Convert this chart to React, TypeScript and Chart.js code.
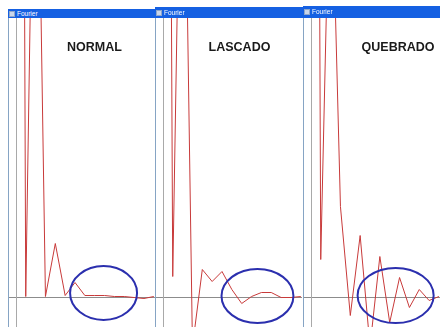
import React, { useEffect, useRef } from "react";
import { Chart, registerables } from "chart.js";

Chart.register(...registerables);

// Panel labels
const PANEL_LABELS = ["NORMAL", "LASCADO", "QUEBRADO"];
const WINDOW_TITLE = "Fourier";

// Fourier magnitudes per harmonic index
const NORMAL_VALUES = [2500, 0, 628, 0, 53, 1, 14, 1, 1, 1, 0, 0, -1, -2, 0];
const LASCADO_VALUES = [2000, 20, 608, -50, 27, 15, 25, 7, -7, 0, 4, 4, -1, -1, 0];
const QUEBRADO_VALUES = [2460, 37, 470, 90, -19, 61, -50, 40, -26, 19, -11, 7, -4, 0];

// Highlight ellipses (centre index, centre value, radius in index, radius in value)
const NORMAL_ELLIPSE = [8.9, 3.5, 3.4, 27];
const LASCADO_ELLIPSE = [9.6, 0.5, 3.65, 27];
const QUEBRADO_ELLIPSE = [8.6, 1, 3.86, 27.5];

const X_MIN = -0.7;
const X_MAX = 14.12;
const Y_MIN = -30.5;
const Y_MAX = 278.5;

type PanelProps = {
  label: string;
  values: number[];
  ellipse: number[];
  left: number;
  titleTop: number;
  labelCenter: number;
};

function Panel({ label, values, ellipse, left, titleTop, labelCenter }: PanelProps) {
  const ref = useRef<HTMLCanvasElement | null>(null);

  useEffect(() => {
    if (!ref.current) return;
    const decor = {
      id: "fourierDecor",
      beforeDatasetsDraw(chart: any) {
        const { ctx, chartArea, scales } = chart;
        const xs = scales.x;
        const ys = scales.y;
        ctx.save();
        ctx.lineWidth = 1;
        ctx.strokeStyle = "#8c8c8c";
        const y0 = Math.round(ys.getPixelForValue(0)) + 0.5;
        ctx.beginPath();
        ctx.moveTo(chartArea.left - 2, y0);
        ctx.lineTo(chartArea.right, y0);
        ctx.stroke();
        ctx.strokeStyle = "#a9a9a9";
        const x0 = Math.round(xs.getPixelForValue(0)) + 0.5;
        ctx.beginPath();
        ctx.moveTo(x0, chartArea.top);
        ctx.lineTo(x0, chartArea.bottom);
        ctx.stroke();
        ctx.restore();
      },
      afterDatasetsDraw(chart: any) {
        const { ctx, scales } = chart;
        const xs = scales.x;
        const ys = scales.y;
        const [cxv, cyv, rxv, ryv] = ellipse;
        const cx = xs.getPixelForValue(cxv);
        const cy = ys.getPixelForValue(cyv);
        const rx = Math.abs(xs.getPixelForValue(cxv + rxv) - cx);
        const ry = Math.abs(ys.getPixelForValue(cyv + ryv) - cy);
        ctx.save();
        ctx.strokeStyle = "#2b2fae";
        ctx.lineWidth = 2;
        ctx.beginPath();
        ctx.ellipse(cx, cy, rx, ry, 0, 0, Math.PI * 2);
        ctx.stroke();
        ctx.restore();
      },
    };
    const chart = new Chart(ref.current, {
      type: "line",
      data: {
        datasets: [
          {
            data: values.map((v, i) => ({ x: i, y: v })),
            borderColor: "#c83a3a",
            borderWidth: 1,
            pointRadius: 0,
            tension: 0,
            fill: false,
          },
        ],
      },
      options: {
        responsive: false,
        maintainAspectRatio: false,
        animation: false,
        layout: { padding: 0 },
        plugins: { legend: { display: false }, tooltip: { enabled: false }, title: { display: false } },
        scales: {
          x: { type: "linear", min: X_MIN, max: X_MAX, display: false },
          y: { type: "linear", min: Y_MIN, max: Y_MAX, display: false },
        },
      },
      plugins: [decor],
    } as any);
    return () => chart.destroy();
  }, [values, ellipse]);

  return (
    <>
      <div
        style={{
          position: "absolute",
          left,
          top: titleTop,
          width: 150,
          height: 18 - titleTop,
          background: "#1560e2",
          overflow: "hidden",
        }}
      >
        <div
          style={{
            position: "absolute",
            left: 1,
            top: (18 - titleTop) / 2 - 3,
            width: 6,
            height: 6,
            background: "#c9d6ea",
            border: "1px solid #8fa6c8",
            boxSizing: "border-box",
          }}
        />
        <div
          style={{
            position: "absolute",
            left: 9,
            top: 0,
            height: 18 - titleTop,
            lineHeight: `${18 - titleTop}px`,
            fontFamily: "'Liberation Sans', Arial, sans-serif",
            fontSize: 6.5,
            color: "#ffffff",
          }}
        >
          {WINDOW_TITLE}
        </div>
      </div>
      <div
        style={{
          position: "absolute",
          left,
          top: 18,
          width: 1,
          height: 309,
          background: "#86a4c4",
        }}
      />
      <canvas
        ref={ref}
        width={146}
        height={309}
        style={{ position: "absolute", left: left + 1, top: 18, width: 146, height: 309, display: "block" }}
      />
      <div
        style={{
          position: "absolute",
          left: labelCenter,
          top: 47,
          transform: "translate(-50%, -50%)",
          fontFamily: "'Liberation Sans', Arial, sans-serif",
          fontWeight: "bold",
          fontSize: 12.5,
          color: "#1a1a1a",
          whiteSpace: "nowrap",
          lineHeight: 1,
        }}
      >
        {label}
      </div>
    </>
  );
}

export default function App() {
  return (
    <div
      style={{
        position: "fixed",
        left: 0,
        top: 0,
        width: 440,
        height: 327,
        overflow: "hidden",
        background: "#ffffff",
      }}
    >
      <Panel label={PANEL_LABELS[0]} values={NORMAL_VALUES} ellipse={NORMAL_ELLIPSE} left={8} titleTop={9} labelCenter={94.5} />
      <Panel label={PANEL_LABELS[1]} values={LASCADO_VALUES} ellipse={LASCADO_ELLIPSE} left={155} titleTop={7} labelCenter={239.5} />
      <Panel label={PANEL_LABELS[2]} values={QUEBRADO_VALUES} ellipse={QUEBRADO_ELLIPSE} left={303} titleTop={6} labelCenter={398} />
    </div>
  );
}
